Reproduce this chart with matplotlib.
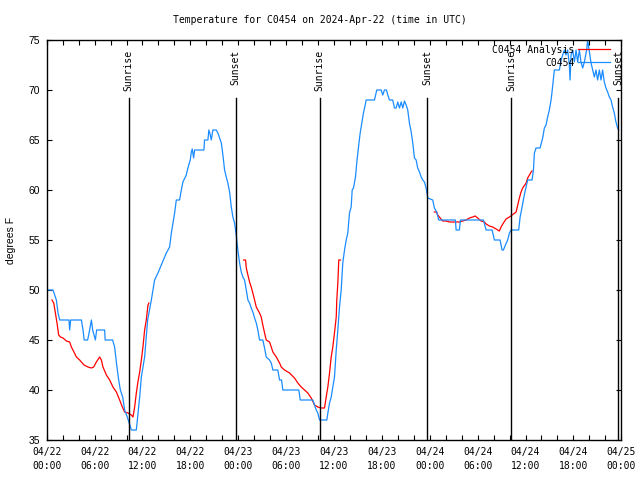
import numpy as np
import matplotlib
matplotlib.use("Agg")
import matplotlib.pyplot as plt
from matplotlib.font_manager import FontProperties

# ---- data (hours since 2024-04-22 00:00 UTC, degrees F) ----
obs_hours = [0.0, 0.79, 1.21, 1.42, 1.63, 2.79, 2.88, 3.0, 4.35, 4.55, 4.7, 5.13, 5.38, 5.6, 5.76,
             6.1, 6.26, 7.26, 7.33, 8.26, 8.51, 8.77, 9.02, 9.23, 9.52, 9.77, 10.14, 10.61, 11.23,
             11.65, 11.86, 12.27, 12.65, 13.11, 13.52, 13.94, 14.36, 14.99, 15.40, 15.62, 15.82,
             16.03, 16.24, 16.65, 16.87, 17.07, 17.49, 17.69, 17.99, 18.12, 18.24, 18.41, 18.53,
             19.70, 19.78, 20.20, 20.32, 20.47, 20.62, 20.82, 21.25, 21.45, 21.66, 21.88, 22.08,
             22.29, 22.50, 22.70, 22.92, 23.13, 23.33, 23.54, 23.75, 23.95, 24.17, 24.38, 24.58,
             24.79, 25.01, 25.21, 25.42, 25.63, 25.83, 26.05, 26.26, 26.46, 26.67, 27.08, 27.30,
             27.51, 27.92, 28.14, 28.34, 28.96, 29.18, 29.43, 29.59, 31.59, 31.77, 33.35, 33.56,
             33.77, 33.97, 34.19, 35.10, 35.23, 35.44, 35.65, 35.85, 36.06, 36.28, 36.48, 36.69,
             36.90, 37.10, 37.32, 37.53, 37.73, 37.94, 38.15, 38.28, 38.44, 38.69, 38.85, 39.07,
             39.28, 39.48, 39.69, 39.91, 40.03, 41.07, 41.36, 41.91, 42.11, 42.32, 42.57, 42.74,
             42.95, 43.36, 43.58, 43.79, 43.99, 44.20, 44.42, 44.62, 44.83, 45.04, 45.24, 45.45,
             45.67, 45.87, 46.08, 46.29, 46.49, 46.71, 46.92, 47.12, 47.33, 47.54, 47.75, 48.37,
             48.58, 48.87, 49.12, 51.21, 51.30, 51.71, 51.84, 54.72, 55.06, 55.81, 56.10, 56.81,
             57.06, 57.23, 57.48, 57.76, 57.98, 58.19, 59.14, 59.32, 59.57, 59.77, 59.98, 60.27,
             60.82, 60.99, 61.11, 61.32, 61.82, 62.15, 62.36, 62.57, 62.77, 62.98, 63.20, 63.32,
             63.61, 64.24, 64.45, 64.86, 65.07, 65.28, 65.49, 65.58, 65.70, 65.91, 66.12, 66.33,
             66.53, 66.74, 66.95, 67.16, 67.37, 67.66, 67.78, 68.0, 68.21, 68.41, 68.62, 68.83,
             69.03, 69.25, 69.46, 69.66, 69.87, 70.08, 70.29, 70.50, 70.71, 70.91, 71.12, 71.33,
             71.54, 71.66]
obs_temp = [50, 50, 49, 47.7, 47, 47, 46, 47, 47, 46, 45, 45, 46, 47, 46,
            45, 46, 46, 45, 45, 44.3, 42.5, 41, 40, 39.3, 38, 37.2, 36, 36,
            39.3, 41.3, 43.3, 47, 49, 51, 51.7, 52.5, 53.7, 54.3, 55.7, 56.7,
            57.7, 59, 59, 60, 60.8, 61.5, 62.2, 63, 63.8, 64.1, 63.2, 64,
            64, 65, 65, 66, 65.6, 65, 66, 66, 65.7, 65.2, 64.7, 63.5,
            62, 61.3, 60.7, 59.8, 58.3, 57.3, 56.7, 55.5, 54, 52.7, 51.8, 51.3,
            51, 50, 49, 48.7, 48.2, 47.8, 47.2, 46.7, 46, 45, 45, 44.2,
            43.3, 43, 42.7, 42, 42, 41, 41, 40, 40, 39, 39, 38.5,
            38, 37.7, 37, 37, 37.7, 38.7, 39.3, 40.3, 41.3, 44, 46, 48.3,
            50, 52.7, 54, 55, 55.7, 57.7, 58.3, 60, 60.2, 61.3, 62.7, 64.3,
            65.7, 66.7, 67.7, 68.5, 69, 69, 70, 70, 69.5, 70, 70, 69.5,
            69, 69, 68.2, 68.2, 68.8, 68.2, 68.8, 68.2, 68.9, 68.5, 68, 66.7,
            65.8, 64.7, 63.2, 63, 62.2, 61.8, 61.3, 61, 60.8, 60.2, 59.2, 59,
            58.2, 57.8, 57, 57, 56, 56, 57, 57, 56, 56, 55, 55,
            54, 54, 54.5, 55, 55.7, 56, 56, 57.3, 58.3, 59.2, 60, 61,
            61, 62, 63.7, 64.2, 64.2, 65.2, 66.2, 66.5, 67.3, 68, 69, 69.8,
            72, 72, 73, 74, 73.5, 74, 72.5, 71, 73.5, 74, 72.8, 74,
            72.8, 74, 72.8, 72.2, 72.8, 74, 75, 73.8, 72.7, 72, 71.3, 72,
            71, 72, 71, 72, 70.8, 70.2, 69.8, 69.3, 69, 68.3, 67.7, 66.8,
            66.2, 66]

nan = np.nan
ana_hours = [0.66, 0.88, 1.09, 1.29, 1.50, 1.72, 2.04, 2.47, 2.88, 3.09, 3.29, 3.72, 4.13, 4.67,
             5.17, 5.60, 5.89, 6.22, 6.64, 6.85, 7.05, 7.48, 7.89, 8.30, 8.73, 9.14, 9.48, 9.77,
             10.18, 10.61, 10.81, 11.02, 11.23, 11.43, 11.65, 11.86, 12.06, 12.27, 12.48, 12.69,
             12.81, 18.0,
             24.67, 24.92, 25.01, 25.21, 25.42, 25.63, 25.83, 26.05, 26.26, 26.67, 26.88, 27.08,
             27.30, 27.51, 27.92, 28.14, 28.34, 28.77, 29.18, 29.39, 29.80, 30.43, 31.05, 31.47,
             31.89, 32.31, 32.72, 33.15, 33.56, 33.97, 34.40, 34.81, 35.02, 35.23, 35.44, 35.65,
             35.85, 36.06, 36.28, 36.35, 36.48, 36.60, 36.81, 42.0,
             48.58, 48.87, 49.0, 49.30, 49.62, 50.05, 50.46, 51.30, 51.71, 52.13, 52.55, 52.97,
             53.38, 53.68, 54.01, 54.43, 54.85, 55.06, 55.47, 55.89, 56.31, 56.72, 56.93, 57.23,
             57.56, 57.98, 58.32, 58.82, 59.02, 59.23, 59.44, 59.64, 60.07, 60.27, 60.49, 60.70,
             60.82]
ana_temp = [49, 48.7, 47.7, 46.7, 45.5, 45.3, 45.2, 44.9, 44.8, 44.3, 44, 43.3, 43, 42.5,
            42.3, 42.2, 42.3, 42.8, 43.3, 43, 42.3, 41.5, 41, 40.3, 39.8, 39, 38.3, 37.8,
            37.7, 37.5, 37.3, 38.3, 39.7, 40.8, 41.8, 43, 44.3, 46, 47, 48.5,
            48.7, nan,
            53, 53, 52.2, 51.5, 50.8, 50.3, 49.7, 49, 48.3, 47.7, 47.3, 46.5,
            45.7, 45, 44.8, 44.3, 43.8, 43.3, 42.7, 42.3, 42, 41.7, 41.2, 40.7,
            40.3, 40, 39.7, 39.2, 38.5, 38.3, 38.2, 38.2, 39.3, 40.3, 41.7, 43.3,
            44.3, 45.7, 47.3, 49, 50.7, 53, 53, nan,
            57.8, 57.8, 57.5, 57.2, 56.9, 56.9, 56.8, 56.8, 56.8, 56.9, 57, 57.2,
            57.3, 57.4, 57.2, 56.9, 56.8, 56.6, 56.4, 56.3, 56.1, 55.9, 56.3, 56.7,
            57.1, 57.3, 57.5, 57.8, 58.5, 59.2, 59.8, 60.2, 60.7, 61.2, 61.5, 61.8,
            61.9]

sun_hours = [10.27, 23.67, 34.19, 47.7, 58.2, 71.6]
sun_labels = ["Sunrise", "Sunset", "Sunrise", "Sunset", "Sunrise", "Sunset"]

tick_hours = list(range(0, 73, 6))
tick_labels = ["04/22\n00:00", "04/22\n06:00", "04/22\n12:00", "04/22\n18:00",
               "04/23\n00:00", "04/23\n06:00", "04/23\n12:00", "04/23\n18:00",
               "04/24\n00:00", "04/24\n06:00", "04/24\n12:00", "04/24\n18:00",
               "04/25\n00:00"]
y_ticks = [35, 40, 45, 50, 55, 60, 65, 70, 75]

# ---- figure ----
mono = FontProperties(family="DejaVu Sans Mono", size=7)
sans = FontProperties(family="Liberation Sans", size=7.5)

fig = plt.figure(figsize=(6.4, 4.8), dpi=100)
ax = fig.add_axes([46.7 / 640, 1 - 440 / 480, (621.3 - 46.7) / 640, 400 / 480])

blue = "#1a8cff"
lw = 0.9
ax.plot(ana_hours, ana_temp, color="#ff0000", lw=lw, label="C0454 Analysis")
ax.plot(obs_hours, obs_temp, color=blue, lw=lw, label="C0454")

for h, lab in zip(sun_hours, sun_labels):
    ax.plot([h, h], [35, 69.2], color="black", lw=1.0)
    ax.text(h, 74.05, lab, rotation=90, ha="center", va="top", fontproperties=mono)

ax.set_xlim(0, 72)
ax.set_ylim(35, 75)
ax.set_xticks(tick_hours)
ax.set_xticklabels(tick_labels, fontproperties=mono, linespacing=1.5)
ax.set_xticks(range(0, 73, 2), minor=True)
ax.set_yticks(y_ticks)
ax.set_yticklabels([str(v) for v in y_ticks], fontproperties=sans)
ax.tick_params(axis="both", which="both", direction="in", top=True, right=True,
               length=3.5, width=0.8, color="black")
ax.tick_params(axis="x", which="major", pad=5)
ax.tick_params(axis="y", which="major", pad=5)
for s in ax.spines.values():
    s.set_linewidth(1.0)

ax.set_ylabel("degrees F", fontproperties=sans, labelpad=9)
fig.text(0.5, 1 - 20 / 480, "Temperature for C0454 on 2024-Apr-22 (time in UTC)",
         ha="center", va="center", fontproperties=mono)

leg = ax.legend(loc="upper right", bbox_to_anchor=(0.993, 1.0075), frameon=False,
                markerfirst=False, prop=mono,
                handlelength=3.2, handletextpad=0.4, labelspacing=0.3,
                borderaxespad=0.6, borderpad=0.2)

fig.savefig("out.png", dpi=100)
